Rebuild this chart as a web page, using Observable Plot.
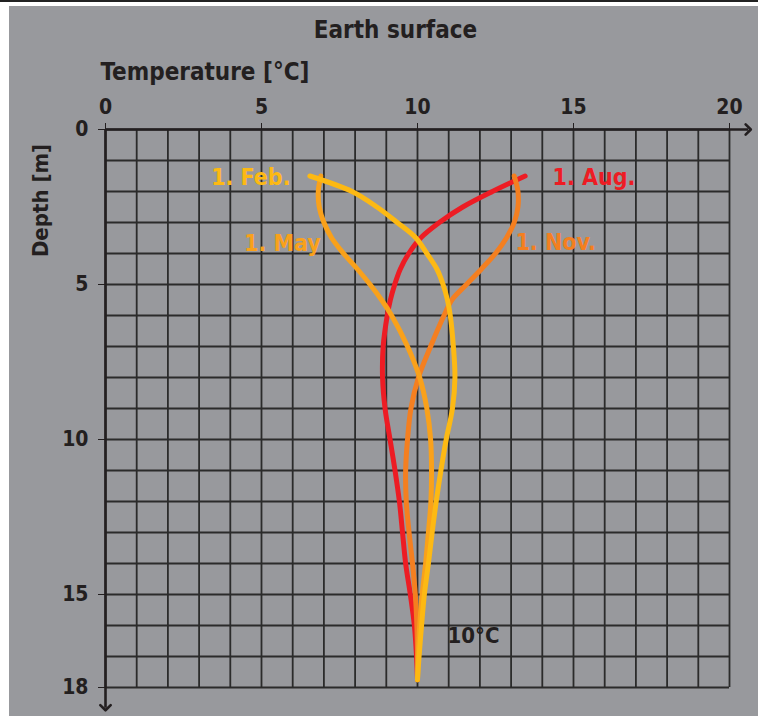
<!DOCTYPE html>
<html>
<head>
<meta charset="utf-8">
<script src="https://cdn.jsdelivr.net/npm/d3@7"></script>
<script src="https://cdn.jsdelivr.net/npm/@observablehq/plot@0.6"></script>
<style>
  html, body { margin: 0; padding: 0; background: #98999d; }
  body { width: 758px; height: 716px; position: relative; overflow: hidden; }
  #chart { position: absolute; left: 0; top: 0; }
  .strip { position: absolute; background: #ffffff; }
</style>
</head>
<body>
<div id="chart"></div>
<div class="strip" style="left:0;top:0;width:758px;height:6px;"></div>
<div class="strip" style="left:0;top:0;width:9px;height:716px;"></div>
<div style="position:absolute;left:0;top:0;width:758px;height:2px;background:#222;"></div>
<script>
// ---- data ----
const depths = [1.5, 2, 2.5, 3, 3.5, 4, 4.5, 5, 5.5, 6, 7, 8, 9, 10, 11, 12, 13, 14, 15, 16, 17, 17.75];
const tempAug = [13.45, 12.4, 11.45, 10.7, 10.1, 9.72, 9.45, 9.27, 9.13, 9.03, 8.9, 8.88, 8.96, 9.12, 9.28, 9.42, 9.52, 9.62, 9.77, 9.9, 9.97, 10.0];
const tempNov = [13.1, 13.22, 13.22, 13.1, 12.85, 12.5, 12.05, 11.57, 11.1, 10.85, 10.42, 10.03, 9.79, 9.68, 9.62, 9.64, 9.73, 9.84, 9.93, 9.98, 10.0, 10.0];
const tempMay = [6.9, 6.82, 6.85, 7.0, 7.25, 7.63, 8.07, 8.48, 8.85, 9.17, 9.68, 10.07, 10.3, 10.42, 10.45, 10.43, 10.35, 10.26, 10.15, 10.07, 10.02, 10.0];
const tempFeb = [6.55, 7.9, 8.7, 9.35, 9.95, 10.3, 10.62, 10.82, 10.96, 11.05, 11.15, 11.2, 11.12, 10.92, 10.75, 10.6, 10.47, 10.35, 10.22, 10.13, 10.05, 10.0];
const seriesNames = ["1. Aug.", "1. Nov.", "1. May", "1. Feb."];
const seriesColors = ["#ed1c24", "#f47f20", "#f9a11b", "#fdb913"];
const seriesTemps = [tempAug, tempNov, tempMay, tempFeb];
// label anchor positions (data coordinates) and alignment
const labelTemp = [14.33, 13.14, 6.9, 5.93];
const labelDepth = [1.55, 3.64, 3.67, 1.55];
const labelAnchor = ["start", "start", "end", "end"];
const xTicks = [0, 5, 10, 15, 20];
const yTicks = [0, 5, 10, 15, 18];
const gridTemps = d3.range(0, 21);
const gridDepths = d3.range(0, 19);
const title = "Earth surface";
const xLabel = "Temperature [°C]";
const yLabel = "Depth [m]";
const noteText = "10°C";
const noteTemp = 10.96, noteDepth = 16.33;

// ---- build ----
const font = '"Liberation Sans Narrow", "DejaVu Sans Condensed", "Roboto Condensed", sans-serif';
const ink = "#231f20";
const gridColor = "#2b2b2b";

const lineMarks = seriesNames.map((name, s) =>
  Plot.line(depths.map((d, i) => ({temp: seriesTemps[s][i], depth: d})), {
    x: "temp", y: "depth", stroke: seriesColors[s], strokeWidth: 5,
    curve: "catmull-rom", strokeLinecap: "round", strokeLinejoin: "round"
  })
);
const labels = seriesNames.map((name, s) => ({name, temp: labelTemp[s], depth: labelDepth[s], color: seriesColors[s], anchor: labelAnchor[s]}));

const chart = Plot.plot({
  width: 758,
  height: 716,
  marginLeft: 105,
  marginRight: 29,
  marginTop: 129,
  marginBottom: 29,
  style: {fontFamily: font, background: "transparent", overflow: "visible"},
  x: {domain: [0, 20]},
  y: {domain: [0, 18], reverse: true},
  marks: [
    Plot.ruleX(gridTemps, {stroke: gridColor, strokeWidth: 1.8}),
    Plot.ruleY(gridDepths, {stroke: gridColor, strokeWidth: 1.8}),
    Plot.axisX({anchor: "top", ticks: xTicks, tickSize: 7, tickPadding: 9, label: null,
      fontSize: 21, fontWeight: "bold", fill: ink, stroke: ink, tickFormat: d => String(d)}),
    Plot.axisY({anchor: "left", ticks: yTicks, tickSize: 7, tickPadding: 10, label: null,
      fontSize: 21, fontWeight: "bold", fill: ink, stroke: ink, tickFormat: d => String(d)}),
    Plot.link([0], {x1: 0, y1: 0, x2: 20.6, y2: 0, stroke: ink, strokeWidth: 2.6, markerEnd: "arrow"}),
    Plot.link([0], {x1: 0, y1: 0, x2: 0, y2: 18.65, stroke: ink, strokeWidth: 2.6, markerEnd: "arrow"}),
    ...lineMarks,
    Plot.text(labels.filter(d => d.anchor === "start"), {x: "temp", y: "depth", text: "name", fill: "color",
      textAnchor: "start", fontSize: 23, fontWeight: "bold"}),
    Plot.text(labels.filter(d => d.anchor === "end"), {x: "temp", y: "depth", text: "name", fill: "color",
      textAnchor: "end", fontSize: 23, fontWeight: "bold"}),
    Plot.text([noteText], {x: noteTemp, y: noteDepth, text: d => d, fill: ink, textAnchor: "start",
      fontSize: 22, fontWeight: "bold"}),
    Plot.text([title], {frameAnchor: "top", dx: -22, dy: -99, text: d => d, fill: ink,
      lineAnchor: "middle", fontSize: 24, fontWeight: "bold"}),
    Plot.text([xLabel], {frameAnchor: "top-left", dx: -5, dy: -57, text: d => d, fill: ink,
      textAnchor: "start", lineAnchor: "middle", fontSize: 24, fontWeight: "bold"}),
    Plot.text([yLabel], {frameAnchor: "top-left", dx: -65, dy: 71, rotate: -90, text: d => d, fill: ink,
      textAnchor: "middle", lineAnchor: "middle", fontSize: 22, fontWeight: "bold"})
  ]
});
document.getElementById("chart").appendChild(chart);
</script>
</body>
</html>
